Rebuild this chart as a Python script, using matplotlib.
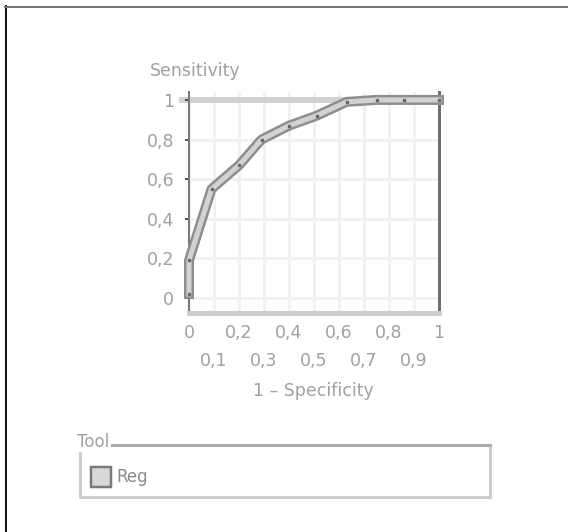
import numpy as np
import matplotlib.pyplot as plt
from matplotlib.patches import Rectangle
from matplotlib.lines import Line2D
from matplotlib.ticker import FixedLocator

# ROC curve
fpr = [0.0, 0.0, 0.09, 0.2, 0.29, 0.4, 0.51, 0.63, 0.75, 0.86, 1.0]
tpr = [0.02, 0.19, 0.55, 0.67, 0.8, 0.87, 0.92, 0.99, 1.0, 1.0, 1.0]
series_name = "Reg"
legend_title = "Tool"
x_major = [0, 0.2, 0.4, 0.6, 0.8, 1]
x_minor = [0.1, 0.3, 0.5, 0.7, 0.9]
y_ticks = [0, 0.2, 0.4, 0.6, 0.8, 1]

W, H = 568, 532
PX = 0.72  # points per pixel at dpi 100
txt = "#a0a0a0"


def fx(px):
    return px / W


def fy(py):
    return 1 - py / H


def lab(v):
    return ("%g" % v).replace(".", ",")


fig = plt.figure(figsize=(W / 100, H / 100), dpi=100)
ax = fig.add_axes([fx(189), fy(313), fx(439) - fx(189), fy(92) - fy(313)])
ax.set_xlim(0, 1)
ax.set_ylim(-0.076, 1.04)

# grid
for v in x_major + x_minor:
    ax.axvline(v, color="#f1f1f1", lw=3 * PX, zorder=0)
for v in y_ticks:
    ax.axhline(v, color="#f1f1f1", lw=3 * PX, zorder=0)
ax.axhline(1.0, xmin=-0.03, color="#d2d2d2", lw=6 * PX, zorder=1, clip_on=False)

# the curve: dark outline, light core, dark dots at vertices
ax.plot(fpr, tpr, color="#8e8e8e", lw=10 * PX, solid_joinstyle="round",
        zorder=3, clip_on=False)
ax.plot(fpr, tpr, color="#d2d2d2", lw=5 * PX, solid_joinstyle="round",
        zorder=4, clip_on=False)
ax.plot(fpr, tpr, ls="none", marker="s", ms=2.5 * PX, color="#666666",
        zorder=5, clip_on=False)

# spines
for s in ax.spines.values():
    s.set_visible(False)
ax.spines["left"].set_visible(True)
ax.spines["left"].set_color("#7a7a7a")
ax.spines["left"].set_linewidth(2 * PX)
ax.spines["right"].set_visible(True)
ax.spines["right"].set_color("#6e6e6e")
ax.spines["right"].set_linewidth(3 * PX)
ax.spines["bottom"].set_visible(True)
ax.spines["bottom"].set_color("#cccccc")
ax.spines["bottom"].set_linewidth(5 * PX)

# ticks
ax.set_yticks(y_ticks)
ax.set_yticklabels([lab(v) for v in y_ticks])
ax.tick_params(axis="y", length=4 * PX, width=2 * PX, color="#555555",
               pad=11 * PX, labelsize=12.5, labelcolor=txt)
ax.xaxis.set_major_locator(FixedLocator(x_major))
ax.xaxis.set_minor_locator(FixedLocator(x_minor))
ax.set_xticklabels([lab(v) for v in x_major])
ax.set_xticklabels([lab(v) for v in x_minor], minor=True)
ax.tick_params(axis="x", which="both", direction="inout", length=3 * PX,
               width=2 * PX, color="#444444", labelsize=12.5, labelcolor=txt)
ax.tick_params(axis="x", which="major", pad=9 * PX)
ax.tick_params(axis="x", which="minor", pad=38 * PX)

fig.text(fx(195), fy(71), "Sensitivity", ha="center", va="center",
         fontsize=12.5, color=txt)
fig.text(fx(313), fy(391), "1 \u2013 Specificity", ha="center", va="center",
         fontsize=12.5, color=txt)

# legend box
fig.add_artist(Rectangle((fx(80), fy(497)), fx(490) - fx(80), fy(445) - fy(497),
                         transform=fig.transFigure, fill=False,
                         edgecolor="#cccccc", lw=3 * PX))
fig.add_artist(Line2D([fx(80), fx(490)], [fy(445), fy(445)],
                      transform=fig.transFigure, color="#aaaaaa", lw=3 * PX))
fig.text(fx(77), fy(442), legend_title, ha="left", va="center", fontsize=12,
         color=txt, bbox=dict(facecolor="white", edgecolor="none", pad=1))
fig.add_artist(Rectangle((fx(91), fy(487)), fx(111) - fx(91), fy(467) - fy(487),
                         transform=fig.transFigure, facecolor="#d8d8d8",
                         edgecolor="#7a7a7a", lw=2.5 * PX))
fig.text(fx(116), fy(477), series_name, ha="left", va="center", fontsize=12,
         color="#8a8a8a")

# outer frame (left and top only visible)
fig.add_artist(Line2D([fx(5.5), fx(5.5)], [fy(6), 0], transform=fig.transFigure,
                      color="#111111", lw=2 * PX))
fig.add_artist(Line2D([fx(5), 1], [fy(6.5), fy(6.5)], transform=fig.transFigure,
                      color="#777777", lw=2 * PX))

fig.savefig("out.png", dpi=100)
